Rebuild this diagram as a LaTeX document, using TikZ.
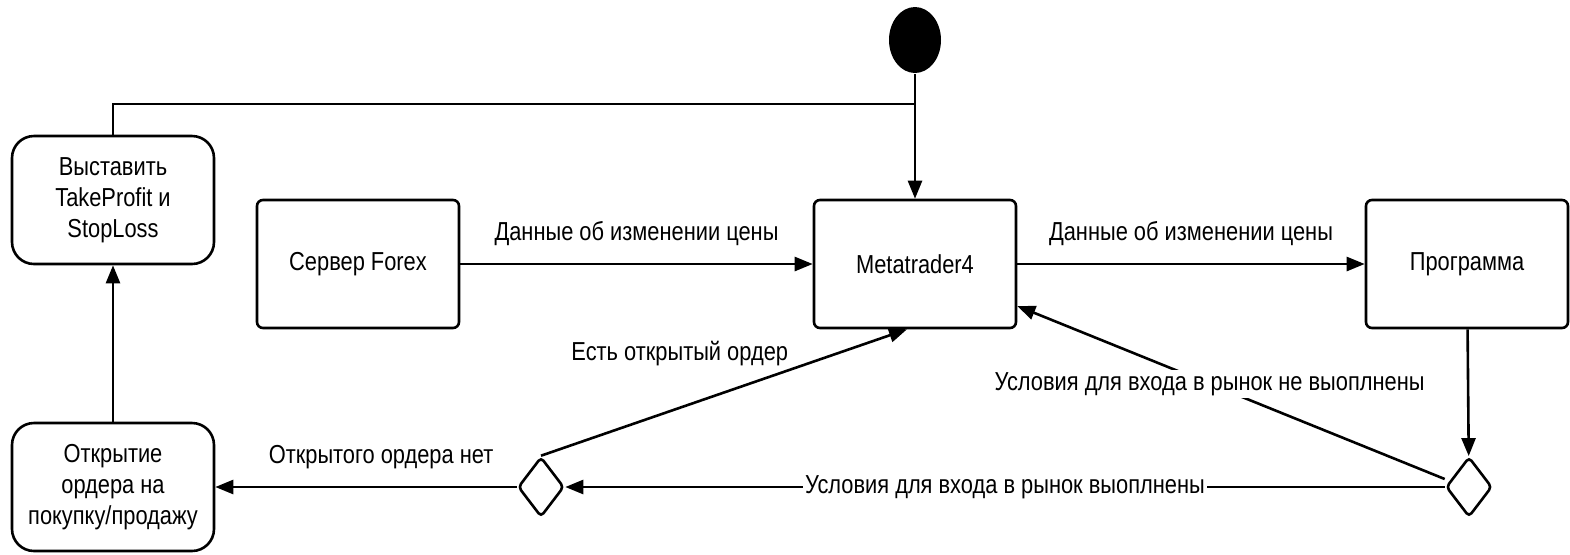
\documentclass[tikz,border=0pt]{standalone}
\usepackage{fontspec}
\setmainfont{Liberation Sans}[FakeStretch=0.84]
\usepackage{tikz}
\usetikzlibrary{arrows.meta,shapes.geometric}

\begin{document}
\begin{tikzpicture}[>={Triangle[length=9pt,width=7pt]},x=0.5pt,y=-0.5pt,line width=1.3pt,
  font=\fontsize{13}{15.5}\selectfont,
  box/.style={draw,rounded corners=3pt,minimum width=101pt,minimum height=64pt,align=center},
  act/.style={box,rounded corners=11pt},
  choice/.style={draw,diamond,rounded corners=2pt,inner sep=0pt,minimum width=23pt,minimum height=30pt},
  lbl/.style={fill=white,inner sep=1pt}]
  \useasboundingbox (0,0) rectangle (1570,554);
  \node[ellipse,fill=black,minimum width=26pt,minimum height=33pt,inner sep=0pt] (start) at (915,40) {};
  \node[act] (tp) at (113,200) {Выставить\\TakeProfit и\\StopLoss};
  \node[act] (open) at (113,487) {Открытие\\ордера на\\покупку/продажу};
  \node[box] (srv) at (358,264) {Сервер Forex};
  \node[box] (mt) at (915,264) {Metatrader4};
  \node[box] (prg) at (1467,264) {Программа};
  \node[choice] (dL) at (541,487) {};
  \node[choice] (dR) at (1469,487) {};
  \coordinate (join) at (915,104);
  \draw[->] (start) -- (mt);
  \draw (tp.north) |- (join);
  \draw[->] (open) -- (tp);
  \draw[->] (srv) -- node[above=5pt] {Данные об изменении цены} (mt);
  \draw[->] (mt) -- node[above=5pt] {Данные об изменении цены} (prg);
  \draw[->] (prg) -- (dR);
  \draw[->] (dR) -- node[lbl] {Условия для входа в рынок выоплнены} (dL);
  \draw[->] (dL) -- node[above=5pt,pos=0.45] {Открытого ордера нет} (open);
  \draw[->] (dL.north) -- node[pos=0.684,anchor=south east,inner sep=1pt] {Есть открытый ордер} ([xshift=-4pt]mt.south);
  \draw[->] ([yshift=4pt]dR.west) -- node[lbl,pos=0.55] {Условия для входа в рынок не выоплнены} ([yshift=-21pt]mt.east);
\end{tikzpicture}
\end{document}
